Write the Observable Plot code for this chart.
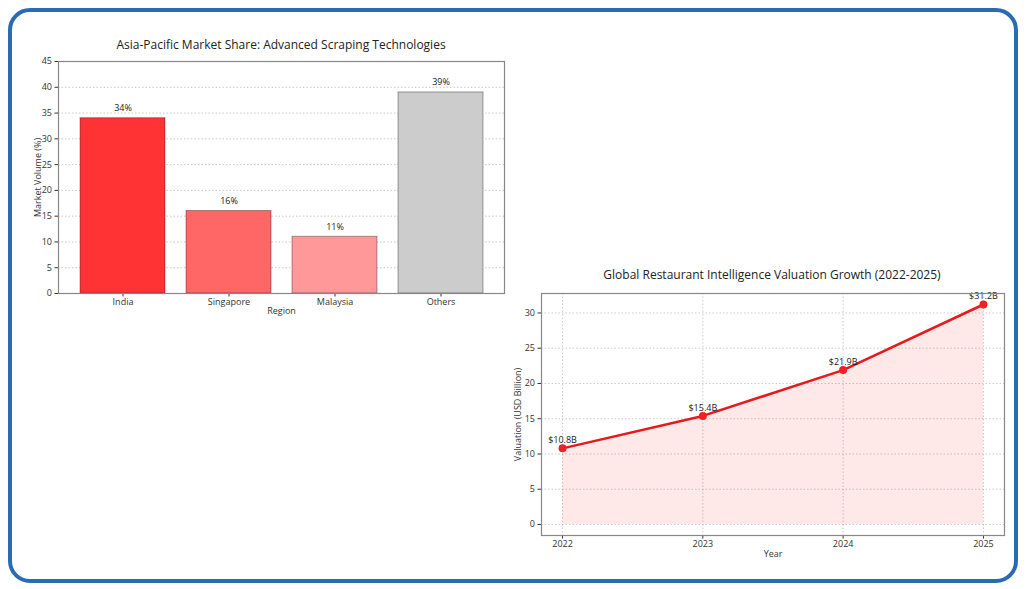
<!DOCTYPE html>
<html>
<head>
<meta charset="utf-8">
<script src="https://cdn.jsdelivr.net/npm/d3@7"></script>
<script src="https://cdn.jsdelivr.net/npm/@observablehq/plot@0.6"></script>
<style>
  html, body { margin: 0; padding: 0; background: #fff; }
  body { width: 1026px; height: 589px; position: relative; overflow: hidden; font-family: "Open Sans", sans-serif; }
  .frame { position: absolute; left: 8px; top: 8px; width: 1002px; height: 567px; border: 4px solid #2a6cb2; border-radius: 22px; }
  .title { position: absolute; font-size: 12px; color: #222; text-align: center; white-space: nowrap; transform: translate(-50%, -50%); }
  .chart { position: absolute; }
</style>
</head>
<body>
<div class="frame"></div>
<div class="title" style="left:281px;top:44px;">Asia-Pacific Market Share: Advanced Scraping Technologies</div>
<div class="title" style="left:772px;top:274px;">Global Restaurant Intelligence Valuation Growth (2022-2025)</div>
<div id="c1" class="chart" style="left:0px;top:30px;"></div>
<div id="c2" class="chart" style="left:500px;top:285px;"></div>
<script>
// Chart 1 data
const regions = ["India", "Singapore", "Malaysia", "Others"];
const shares = [34, 16, 11, 39];
const barColors = ["#ff3333", "#ff6666", "#ff9999", "#cccccc"];
const shareTicks = [0, 5, 10, 15, 20, 25, 30, 35, 40, 45];

// Chart 2 data
const years = [2022, 2023, 2024, 2025];
const valuations = [10.8, 15.4, 21.9, 31.2];
const valuationTicks = [0, 5, 10, 15, 20, 25, 30];

const barData = regions.map((r, i) => ({region: r, share: shares[i], color: barColors[i]}));
const lineData = years.map((y, i) => ({year: y, value: valuations[i]}));

const fontFamily = "Open Sans, sans-serif";

const c1 = Plot.plot({
  width: 520, height: 295,
  marginLeft: 58, marginRight: 16, marginTop: 31, marginBottom: 32,
  style: {fontFamily, fontSize: "9px", color: "#333", background: "transparent"},
  x: {domain: regions, padding: 0.2, label: null},
  y: {domain: [0, 45], label: null},
  marks: [
    Plot.gridY(shareTicks.slice(1), {stroke: "#999", strokeOpacity: 0.55, strokeDasharray: "1.5,2"}),
    Plot.barY(barData, {x: "region", y: "share", fill: "color", stroke: "#000", strokeOpacity: 0.35, strokeWidth: 1}),
    Plot.text(barData, {x: "region", y: "share", text: d => d.share + "%", dy: -10, fontSize: 9, fill: "#222"}),
    Plot.axisY({ticks: shareTicks, tickSize: 3.5, tickPadding: 3, label: "Market Volume (%)", labelAnchor: "center", labelArrow: "none", labelOffset: 24, fontSize: 9}),
    Plot.axisX({tickSize: 3.5, tickPadding: 1.5, label: "Region", labelAnchor: "center", labelArrow: "none", labelOffset: 20, fontSize: 9}),
    Plot.frame({stroke: "#888", strokeWidth: 1.2})
  ]
});
document.getElementById("c1").appendChild(c1);

const c2 = Plot.plot({
  width: 526, height: 280,
  marginLeft: 41, marginRight: 22, marginTop: 8, marginBottom: 30,
  style: {fontFamily, fontSize: "9px", color: "#333", background: "transparent"},
  x: {domain: [2021.85, 2025.15], label: null},
  y: {domain: [-1.56, 32.76], label: null},
  marks: [
    Plot.gridY(valuationTicks, {stroke: "#999", strokeOpacity: 0.5, strokeDasharray: "1.5,2"}),
    Plot.gridX(years, {stroke: "#999", strokeOpacity: 0.5, strokeDasharray: "1.5,2"}),
    Plot.areaY(lineData, {x: "year", y: "value", fill: "#ff0000", fillOpacity: 0.09}),
    Plot.lineY(lineData, {x: "year", y: "value", stroke: "#e8191c", strokeWidth: 2.5}),
    Plot.dot(lineData, {x: "year", y: "value", r: 4, fill: "#ee2222", stroke: "none"}),
    Plot.text(lineData, {x: "year", y: "value", text: d => "$" + d.value.toFixed(1) + "B", dy: -8, fontSize: 9, fill: "#222"}),
    Plot.axisY({ticks: valuationTicks, tickSize: 3.5, tickPadding: 3, label: "Valuation (USD Billion)", labelAnchor: "center", labelArrow: "none", labelOffset: 27, fontSize: 9}),
    Plot.axisX({ticks: years, tickFormat: d => String(d), tickSize: 3.5, tickPadding: 1.5, label: "Year", labelAnchor: "center", labelArrow: "none", labelOffset: 21, fontSize: 9}),
    Plot.frame({stroke: "#888", strokeWidth: 1.2})
  ]
});
document.getElementById("c2").appendChild(c2);
</script>
</body>
</html>
